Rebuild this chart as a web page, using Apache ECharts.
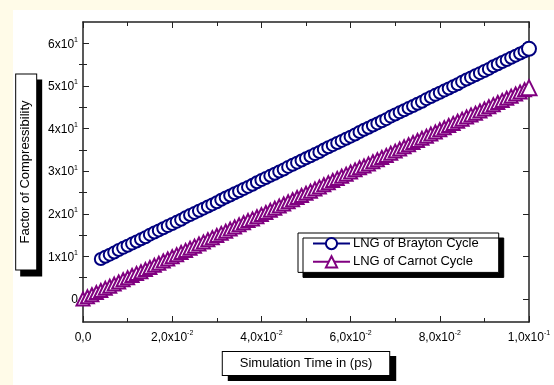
<!doctype html>
<html>
<head>
<meta charset="UTF-8">
<title>Factor of Compressibility</title>
<style>
  html, body { margin: 0; padding: 0; background: #fffbe8; }
  #panel { position: absolute; left: 13px; top: 10px; width: 541px; height: 375px; background: #fff; }
  #main { position: absolute; left: 0; top: 0; width: 554px; height: 385px; }
</style>
<script src="https://cdn.jsdelivr.net/npm/echarts@6/dist/echarts.min.js"></script>
</head>
<body>
<div id="panel"></div>
<div id="main"></div>
<script type="text/javascript">
// simulation time (ps)
var time = [0, 0.001, 0.002, 0.003, 0.004, 0.005, 0.006, 0.007, 0.008, 0.009,
  0.010, 0.011, 0.012, 0.013, 0.014, 0.015, 0.016, 0.017, 0.018, 0.019,
  0.020, 0.021, 0.022, 0.023, 0.024, 0.025, 0.026, 0.027, 0.028, 0.029,
  0.030, 0.031, 0.032, 0.033, 0.034, 0.035, 0.036, 0.037, 0.038, 0.039,
  0.040, 0.041, 0.042, 0.043, 0.044, 0.045, 0.046, 0.047, 0.048, 0.049,
  0.050, 0.051, 0.052, 0.053, 0.054, 0.055, 0.056, 0.057, 0.058, 0.059,
  0.060, 0.061, 0.062, 0.063, 0.064, 0.065, 0.066, 0.067, 0.068, 0.069,
  0.070, 0.071, 0.072, 0.073, 0.074, 0.075, 0.076, 0.077, 0.078, 0.079,
  0.080, 0.081, 0.082, 0.083, 0.084, 0.085, 0.086, 0.087, 0.088, 0.089,
  0.090, 0.091, 0.092, 0.093, 0.094, 0.095, 0.096, 0.097, 0.098, 0.099,
  0.100];

// LNG of Brayton Cycle (no points before ~0.004)
var brayton = [null, null, null, null, 9.4, 9.9, 10.4, 10.9, 11.5, 12.0,
  12.5, 13.0, 13.5, 14.0, 14.5, 15.1, 15.6, 16.1, 16.6, 17.1,
  17.6, 18.1, 18.6, 19.2, 19.7, 20.2, 20.7, 21.2, 21.7, 22.2,
  22.7, 23.3, 23.8, 24.3, 24.8, 25.3, 25.8, 26.3, 26.8, 27.4,
  27.9, 28.4, 28.9, 29.4, 29.9, 30.4, 31.0, 31.5, 32.0, 32.5,
  33.0, 33.5, 34.0, 34.5, 35.1, 35.6, 36.1, 36.6, 37.1, 37.6,
  38.1, 38.6, 39.2, 39.7, 40.2, 40.7, 41.2, 41.7, 42.2, 42.8,
  43.3, 43.8, 44.3, 44.8, 45.3, 45.8, 46.3, 46.9, 47.4, 47.9,
  48.4, 48.9, 49.4, 49.9, 50.4, 51.0, 51.5, 52.0, 52.5, 53.0,
  53.5, 54.0, 54.6, 55.1, 55.6, 56.1, 56.6, 57.1, 57.6, 58.1,
  58.7];

// LNG of Carnot Cycle
var carnot = [0, 0.5, 1.0, 1.5, 2.0, 2.5, 3.0, 3.5, 4.0, 4.5,
  5.0, 5.5, 6.0, 6.4, 6.9, 7.4, 7.9, 8.4, 8.9, 9.4,
  9.9, 10.4, 10.9, 11.4, 11.9, 12.4, 12.9, 13.4, 13.9, 14.4,
  14.9, 15.4, 15.9, 16.4, 16.9, 17.4, 17.9, 18.4, 18.8, 19.3,
  19.8, 20.3, 20.8, 21.3, 21.8, 22.3, 22.8, 23.3, 23.8, 24.3,
  24.8, 25.3, 25.8, 26.3, 26.8, 27.3, 27.8, 28.3, 28.8, 29.3,
  29.8, 30.3, 30.8, 31.2, 31.7, 32.2, 32.7, 33.2, 33.7, 34.2,
  34.7, 35.2, 35.7, 36.2, 36.7, 37.2, 37.7, 38.2, 38.7, 39.2,
  39.7, 40.2, 40.7, 41.2, 41.7, 42.2, 42.7, 43.2, 43.6, 44.1,
  44.6, 45.1, 45.6, 46.1, 46.6, 47.1, 47.6, 48.1, 48.6, 49.1,
  49.6];

// tick labels
var xTickMant = ['0,0', '2,0', '4,0', '6,0', '8,0', '1,0'];
var xTickExp = ['', '-2', '-2', '-2', '-2', '-1'];
var yTickValues = [0, 10, 20, 30, 40, 50, 60];
var yMinorValues = [5, 15, 25, 35, 45, 55];
var yTickMant = ['0', '1', '2', '3', '4', '5', '6'];
var yTickExp = ['', '1', '1', '1', '1', '1', '1'];

function pairs(ys) {
    var out = [];
    for (var i = 0; i < time.length; i++) {
        if (ys[i] != null) out.push([time[i], ys[i]]);
    }
    return out;
}

var font = 'Liberation Sans, Arial, sans-serif';
var labelRich = {
    b: { fontSize: 12, fontFamily: font, color: '#000', lineHeight: 14, verticalAlign: 'bottom' },
    s: { fontSize: 7, fontFamily: font, color: '#000', verticalAlign: 'top', lineHeight: 14 }
};
var axisLine = { show: true, onZero: false, lineStyle: { color: '#222', width: 1.5 } };
var nameBox = {
    fontSize: 13, fontFamily: font, color: '#000',
    backgroundColor: '#fff', borderColor: '#000', borderWidth: 1,
    shadowColor: '#000', shadowBlur: 0, shadowOffsetX: 6, shadowOffsetY: 5
};

var myChart = echarts.init(document.getElementById('main'));

var option = {
    animation: false,
    backgroundColor: 'transparent',
    grid: { left: 83, right: 25, top: 22, bottom: 63 },
    legend: {
        orient: 'vertical',
        left: 298, top: 233,
        padding: [4, 20, 4, 14],
        itemGap: 5,
        itemWidth: 37, itemHeight: 14,
        backgroundColor: '#fff', borderColor: '#000', borderWidth: 1,
        shadowColor: '#000', shadowBlur: 0, shadowOffsetX: 5, shadowOffsetY: 5,
        textStyle: { fontSize: 13, fontFamily: font, color: '#000', padding: [0, 0, 0, -2] },
        data: ['LNG of Brayton Cycle', 'LNG of Carnot Cycle']
    },
    xAxis: [{
        type: 'value', position: 'bottom',
        min: 0, max: 0.1, interval: 0.02,
        name: 'Simulation Time in (ps)', nameLocation: 'middle', nameGap: 30,
        nameTextStyle: Object.assign({ padding: [5, 17, 5, 17] }, nameBox),
        axisLine: axisLine,
        axisTick: { show: true, inside: true, length: 6, lineStyle: { color: '#222' } },
        minorTick: { show: true, splitNumber: 2, length: 4, lineStyle: { color: '#222' } },
        splitLine: { show: false },
        axisLabel: {
            margin: 8,
            formatter: function (v) {
                var i = Math.round(v / 0.02);
                return xTickExp[i] ? '{b|' + xTickMant[i] + 'x10}{s|' + xTickExp[i] + '}' : '{b|' + xTickMant[i] + '}';
            },
            rich: labelRich
        }
    }, {
        type: 'value', position: 'top',
        min: 0, max: 0.1, interval: 0.02,
        axisLine: axisLine,
        axisTick: { show: true, inside: true, length: 6, lineStyle: { color: '#222' } },
        minorTick: { show: true, splitNumber: 2, length: 4, lineStyle: { color: '#222' } },
        splitLine: { show: false },
        axisLabel: { show: false }
    }],
    yAxis: [{
        type: 'value', position: 'left',
        min: -5.4, max: 65,
        name: 'Factor of Compressibility', nameLocation: 'middle', nameGap: 46,
        nameTextStyle: Object.assign({ padding: [3, 26, 4, 26] }, nameBox, { shadowOffsetX: 5, shadowOffsetY: 6 }),
        axisLine: axisLine,
        axisTick: { show: true, inside: true, length: 6, customValues: yTickValues, lineStyle: { color: '#222' } },
        splitLine: { show: false },
        axisLabel: {
            margin: 5,
            customValues: yTickValues,
            formatter: function (v) {
                var i = Math.round(v / 10);
                return yTickExp[i] ? '{b|' + yTickMant[i] + 'x10}{s|' + yTickExp[i] + '}' : '{b|' + yTickMant[i] + '}';
            },
            rich: labelRich
        }
    }, {
        type: 'value', position: 'left',
        min: -5.4, max: 65,
        axisLine: { show: false },
        axisTick: { show: true, inside: true, length: 4, customValues: yMinorValues, lineStyle: { color: '#222' } },
        splitLine: { show: false },
        axisLabel: { show: false }
    }, {
        type: 'value', position: 'right',
        min: -5.4, max: 65,
        axisLine: axisLine,
        axisTick: { show: true, inside: true, length: 6, customValues: yTickValues, lineStyle: { color: '#222' } },
        splitLine: { show: false },
        axisLabel: { show: false }
    }, {
        type: 'value', position: 'right',
        min: -5.4, max: 65,
        axisLine: { show: false },
        axisTick: { show: true, inside: true, length: 4, customValues: yMinorValues, lineStyle: { color: '#222' } },
        splitLine: { show: false },
        axisLabel: { show: false }
    }],
    series: [{
        name: 'LNG of Brayton Cycle',
        type: 'line',
        data: pairs(brayton),
        symbol: 'emptyCircle',
        symbolSize: function (v, p) { return p.dataIndex === 96 ? 14 : 12; },
        clip: false,
        color: '#00007f',
        itemStyle: { color: '#00007f', borderColor: '#00007f', borderWidth: 2 },
        lineStyle: { color: '#00007f', width: 1.5 }
    }, {
        name: 'LNG of Carnot Cycle',
        type: 'line',
        data: pairs(carnot),
        symbol: 'emptyTriangle',
        symbolSize: function (v, p) { return p.dataIndex === 100 ? 15 : 13; },
        clip: false,
        color: '#800080',
        itemStyle: { color: '#800080', borderColor: '#800080', borderWidth: 2.2 },
        lineStyle: { color: '#800080', width: 1.5 }
    }]
};

myChart.setOption(option);
</script>
</body>
</html>
